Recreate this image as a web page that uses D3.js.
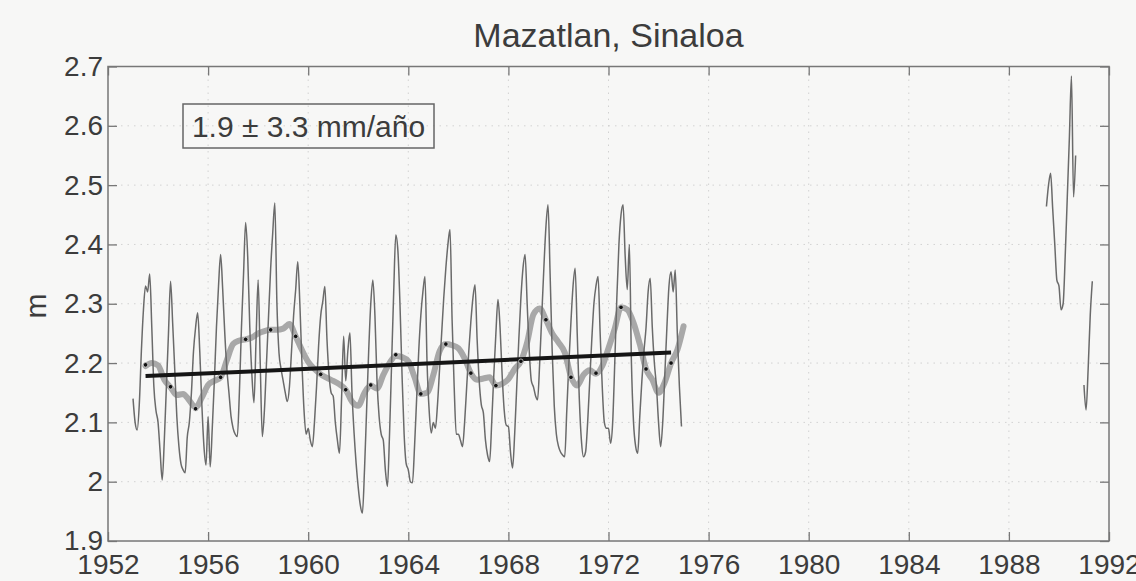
<!DOCTYPE html>
<html>
<head>
<meta charset="utf-8">
<script src="https://cdn.jsdelivr.net/npm/d3@7"></script>
<style>
  html, body { margin: 0; padding: 0; background: #f7f7f6; }
  svg { display: block; }
  text { font-family: "Liberation Sans", Arial, Helvetica, sans-serif; fill: #3c3c3c; }
</style>
</head>
<body>
<svg id="chart" width="1136" height="581"></svg>
<script>
// Monthly mean sea level at Mazatlan (m), one row of 12 months per year; null = no record
const years = [1953, 1954, 1955, 1956, 1957, 1958, 1959, 1960, 1961, 1962, 1963,
               1964, 1965, 1966, 1967, 1968, 1969, 1970, 1971, 1972, 1973, 1974,
               1989, 1990, 1991];
const monthlyLevel = [
  [2.14, 2.10, 2.087, 2.13, 2.22, 2.29, 2.33, 2.32, 2.35, 2.26, 2.16, 2.12],
  [2.10, 2.05, 2.003, 2.07, 2.16, 2.25, 2.338, 2.268, 2.19, 2.11, 2.06, 2.03],
  [2.02, 2.015, 2.075, 2.10, 2.15, 2.22, 2.26, 2.285, 2.22, 2.13, 2.06, 2.028],
  [2.11, 2.025, 2.09, 2.17, 2.26, 2.33, 2.383, 2.324, 2.25, 2.19, 2.15, 2.11],
  [2.09, 2.08, 2.076, 2.15, 2.26, 2.35, 2.437, 2.379, 2.26, 2.18, 2.133, 2.24],
  [2.34, 2.20, 2.076, 2.12, 2.20, 2.28, 2.36, 2.42, 2.47, 2.30, 2.217, 2.19],
  [2.17, 2.15, 2.135, 2.16, 2.22, 2.28, 2.324, 2.371, 2.30, 2.20, 2.12, 2.08],
  [2.09, 2.07, 2.059, 2.10, 2.16, 2.23, 2.28, 2.304, 2.329, 2.24, 2.18, 2.15],
  [2.144, 2.10, 2.07, 2.048, 2.14, 2.245, 2.17, 2.22, 2.251, 2.15, 2.082, 2.03],
  [1.99, 1.96, 1.947, 2.02, 2.12, 2.22, 2.30, 2.34, 2.28, 2.17, 2.11, 2.08],
  [2.07, 2.02, 1.992, 2.08, 2.20, 2.32, 2.416, 2.39, 2.30, 2.18, 2.08, 2.03],
  [2.02, 2.00, 1.998, 2.06, 2.14, 2.22, 2.28, 2.32, 2.346, 2.20, 2.12, 2.082],
  [2.10, 2.09, 2.13, 2.19, 2.25, 2.31, 2.36, 2.40, 2.425, 2.273, 2.16, 2.08],
  [2.08, 2.07, 2.059, 2.10, 2.16, 2.22, 2.27, 2.31, 2.332, 2.24, 2.17, 2.13],
  [2.116, 2.07, 2.045, 2.034, 2.10, 2.18, 2.25, 2.307, 2.26, 2.18, 2.12, 2.095],
  [2.093, 2.05, 2.023, 2.08, 2.16, 2.24, 2.31, 2.36, 2.383, 2.30, 2.22, 2.17],
  [2.16, 2.145, 2.138, 2.20, 2.28, 2.36, 2.43, 2.467, 2.35, 2.22, 2.127, 2.08],
  [2.06, 2.05, 2.045, 2.042, 2.12, 2.20, 2.27, 2.33, 2.36, 2.25, 2.14, 2.07],
  [2.042, 2.05, 2.10, 2.17, 2.24, 2.30, 2.33, 2.346, 2.25, 2.16, 2.10, 2.09],
  [2.09, 2.065, 2.10, 2.20, 2.31, 2.40, 2.45, 2.467, 2.38, 2.324, 2.40, 2.20],
  [2.10, 2.06, 2.048, 2.11, 2.17, 2.22, 2.26, 2.32, 2.343, 2.26, 2.20, 2.16],
  [2.10, 2.059, 2.10, 2.18, 2.26, 2.33, 2.354, 2.32, 2.357, 2.25, 2.16, 2.093],
  [null, null, null, null, null, null, 2.464, 2.50, 2.52, 2.46, 2.40, 2.34],
  [2.33, 2.29, 2.30, 2.38, 2.48, 2.58, 2.684, 2.48, 2.55, null, null, null],
  [2.163, 2.121, 2.19, 2.28, 2.338, null, null, null, null, null, null, null]
];

// Low-pass (running mean) level, sampled every quarter year from 1953.5
const smoothStart = 1953.5;
const smoothStep = 0.25;
const smoothedLevel = [
  2.195, 2.200, 2.196, 2.172, 2.159, 2.146, 2.148, 2.137, 2.125, 2.142,
  2.163, 2.170, 2.176, 2.205, 2.232, 2.238, 2.240, 2.243, 2.250, 2.254,
  2.256, 2.256, 2.258, 2.266, 2.245, 2.222, 2.202, 2.190, 2.181, 2.175,
  2.170, 2.164, 2.155, 2.135, 2.128, 2.150, 2.162, 2.157, 2.180, 2.200,
  2.212, 2.210, 2.203, 2.176, 2.148, 2.150, 2.180, 2.220, 2.232, 2.230,
  2.225, 2.208, 2.183, 2.172, 2.174, 2.176, 2.162, 2.165, 2.173, 2.190,
  2.203, 2.235, 2.282, 2.292, 2.273, 2.250, 2.235, 2.218, 2.177, 2.162,
  2.180, 2.188, 2.182, 2.195, 2.225, 2.258, 2.294, 2.290, 2.268, 2.232,
  2.190, 2.172, 2.150, 2.168, 2.200, 2.222, 2.262
];

// Annual means, plotted at mid-year
const annualYears = [1953, 1954, 1955, 1956, 1957, 1958, 1959, 1960, 1961, 1962, 1963,
                     1964, 1965, 1966, 1967, 1968, 1969, 1970, 1971, 1972, 1973, 1974];
const annualMean = [2.197, 2.160, 2.123, 2.176, 2.240, 2.256, 2.245, 2.181, 2.155, 2.163, 2.214,
                    2.148, 2.232, 2.183, 2.162, 2.203, 2.273, 2.176, 2.183, 2.294, 2.190, 2.200];

// Linear trend fitted to 1953–1974
const trendRateMm = 1.9;
const trendErrMm = 3.3;
const trendFrom = 1953.5;
const trendTo = 1974.5;
const trendLevelAtFrom = 2.178;

// Axis ticks
const xTicks = [1952, 1956, 1960, 1964, 1968, 1972, 1976, 1980, 1984, 1988, 1992];
const yTicks = [1.9, 2.0, 2.1, 2.2, 2.3, 2.4, 2.5, 2.6, 2.7];

const titleText = "Mazatlan, Sinaloa";
const yLabel = "m";

// ---- layout ----
const plot = { left: 108, right: 1109, top: 66.5, bottom: 541 };
const svg = d3.select("#chart");

const x = d3.scaleLinear().domain([1952, 1992]).range([plot.left, plot.right]);
const y = d3.scaleLinear().domain([1.9, 2.7]).range([plot.bottom, plot.top]);

// build series
const monthly = years.flatMap((yr, i) =>
  monthlyLevel[i].map((v, m) => ({ t: yr + m / 12, v })));
const smoothed = smoothedLevel.map((v, i) => ({ t: smoothStart + i * smoothStep, v }));
const annual = annualYears.map((yr, i) => ({ t: yr + 0.5, v: annualMean[i] }));
const trend = [trendFrom, trendTo].map(t => ({
  t, v: trendLevelAtFrom + trendRateMm / 1000 * (t - trendFrom)
}));

// dotted grid
const grid = svg.append("g").attr("class", "grid")
  .attr("stroke", "#d2d2d2").attr("stroke-width", 1).attr("stroke-dasharray", "1.5,5");
grid.selectAll("line.v").data(xTicks.slice(1, -1)).join("line")
  .attr("x1", d => x(d)).attr("x2", d => x(d))
  .attr("y1", plot.top).attr("y2", plot.bottom);
grid.selectAll("line.h").data(yTicks.slice(1, -1)).join("line")
  .attr("x1", plot.left).attr("x2", plot.right)
  .attr("y1", d => y(d)).attr("y2", d => y(d));

const line = d3.line()
  .defined(d => d.v != null)
  .x(d => x(d.t)).y(d => y(d.v));

// smoothed series (thick grey)
svg.append("path").datum(smoothed)
  .attr("fill", "none").attr("stroke", "#a8a8a8").attr("stroke-width", 6)
  .attr("stroke-linejoin", "round").attr("stroke-linecap", "round")
  .attr("d", line.curve(d3.curveMonotoneX));

// monthly series (thin)
svg.append("path").datum(monthly)
  .attr("fill", "none").attr("stroke", "#6a6a6a").attr("stroke-width", 1.5)
  .attr("stroke-linejoin", "round")
  .attr("d", line.curve(d3.curveMonotoneX));

// trend line
svg.append("path").datum(trend)
  .attr("fill", "none").attr("stroke", "#151515").attr("stroke-width", 4)
  .attr("d", line.curve(d3.curveLinear));

// annual means
svg.append("g").selectAll("circle").data(annual).join("circle")
  .attr("cx", d => x(d.t)).attr("cy", d => y(d.v)).attr("r", 2.3)
  .attr("fill", "#111").attr("stroke", "#d0d0d0").attr("stroke-width", 0.8);

// axes with inward ticks
const fmtY = d => String(+d.toFixed(1));
const styleAxis = g => {
  g.select(".domain").remove();
  g.selectAll(".tick line").attr("stroke", "#777").attr("stroke-width", 1.3);
  g.selectAll(".tick text").attr("font-size", 28).attr("fill", "#3c3c3c")
    .attr("font-family", '"Liberation Sans", Arial, Helvetica, sans-serif');
};

svg.append("g").attr("transform", `translate(0,${plot.bottom})`)
  .call(d3.axisBottom(x).tickValues(xTicks).tickFormat(d3.format("d"))
    .tickSizeInner(-9).tickSizeOuter(0).tickPadding(13))
  .call(styleAxis);
svg.append("g").attr("transform", `translate(0,${plot.top})`)
  .call(d3.axisTop(x).tickValues(xTicks).tickFormat("")
    .tickSizeInner(-9).tickSizeOuter(0))
  .call(styleAxis);
svg.append("g").attr("transform", `translate(${plot.left},0)`)
  .call(d3.axisLeft(y).tickValues(yTicks).tickFormat(fmtY)
    .tickSizeInner(-9).tickSizeOuter(0).tickPadding(5))
  .call(styleAxis);
svg.append("g").attr("transform", `translate(${plot.right},0)`)
  .call(d3.axisRight(y).tickValues(yTicks).tickFormat("")
    .tickSizeInner(-9).tickSizeOuter(0))
  .call(styleAxis);

// frame
svg.append("rect")
  .attr("x", plot.left).attr("y", plot.top)
  .attr("width", plot.right - plot.left).attr("height", plot.bottom - plot.top)
  .attr("fill", "none").attr("stroke", "#777").attr("stroke-width", 1.5);

// title and axis label
svg.append("text").attr("x", (plot.left + plot.right) / 2).attr("y", 47)
  .attr("text-anchor", "middle").attr("font-size", 34).text(titleText);
svg.append("text").attr("transform", "translate(46,306) rotate(-90)")
  .attr("text-anchor", "middle").attr("font-size", 30).text(yLabel);

// rate legend box
const legend = svg.append("g");
legend.append("rect").attr("x", 183).attr("y", 104).attr("width", 251).attr("height", 44)
  .attr("fill", "none").attr("stroke", "#666").attr("stroke-width", 1.5);
legend.append("text").attr("x", 308.5).attr("y", 137)
  .attr("text-anchor", "middle").attr("font-size", 30)
  .text(`${trendRateMm} ± ${trendErrMm} mm/año`);
</script>
</body>
</html>
